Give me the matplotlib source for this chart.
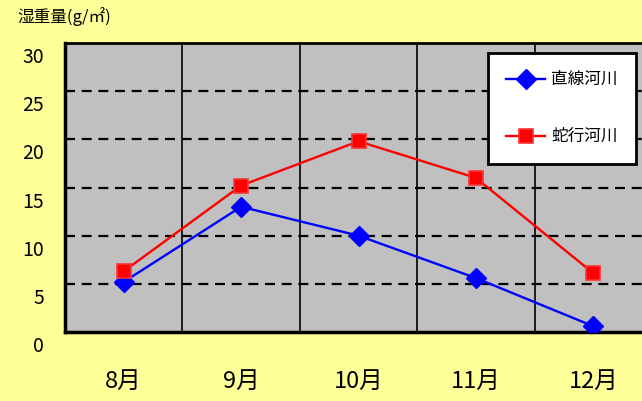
import matplotlib
matplotlib.use("Agg")
import matplotlib.pyplot as plt
import matplotlib.transforms as mtransforms

plt.rcParams['font.family'] = ['Noto Sans CJK JP', 'DejaVu Sans']

# monthly wet weight for the two river types
months = ["8月", "9月", "10月", "11月", "12月"]
straight = [5.2, 13.0, 10.0, 5.6, 0.6]
meander = [6.3, 15.2, 19.8, 16.0, 6.1]
yticks = [0, 5, 10, 15, 20, 25, 30]

fig = plt.figure(figsize=(6.42, 4.01), dpi=100)
fig.patch.set_facecolor('#ffff99')
ax = fig.add_axes([65 / 642, 1 - 332 / 401, 587 / 642, 289 / 401])
ax.set_facecolor('#c0c0c0')

x = [i + 0.5 for i in range(len(months))]
ax.plot(x, straight, color='#0000ff', lw=1.7, marker='D', ms=10,
        mfc='#0000ff', mec='#0000ff', label='直線河川', zorder=4)
ax.plot(x, meander, color='#ff0000', lw=1.7, marker='s', ms=10,
        mfc='#ff0000', mec='#ff3333', mew=1.2, label='蛇行河川', zorder=5)

ax.set_xlim(0, len(months))
ax.set_ylim(0, 30)

# dashed horizontal grid, solid category separators
for v in yticks[1:-1]:
    ax.axhline(v, color='black', lw=1.6, ls=(0, (4.5, 3)), zorder=2)
ax.set_xticks(range(1, len(months)), minor=True)
ax.grid(which='minor', axis='x', color='black', lw=1.2, zorder=2)

ax.set_xticks(x)
ax.set_xticklabels(months, fontsize=17)
ax.set_yticks(yticks)
ax.set_yticklabels([str(v) for v in yticks], fontsize=14)
ax.tick_params(which='both', length=0)
ax.tick_params(axis='x', pad=27)
ax.tick_params(axis='y', pad=15)

shift = mtransforms.ScaledTranslation(0, -12 / 100, fig.dpi_scale_trans)
for lab in ax.get_yticklabels():
    lab.set_transform(lab.get_transform() + shift)

for side in ['left', 'bottom']:
    ax.spines[side].set_linewidth(2.5)
ax.spines['top'].set_linewidth(2)
ax.spines['right'].set_visible(False)

leg = ax.legend(loc='upper left', bbox_to_anchor=(488 / 642, 1 - 53 / 401),
                bbox_transform=fig.transFigure, borderaxespad=0,
                fontsize=12, labelspacing=2.4, borderpad=1.1,
                handlelength=2.3, handletextpad=0.4, fancybox=False,
                framealpha=1, facecolor='white', edgecolor='black')
leg.get_frame().set_linewidth(2)
leg.set_zorder(10)

fig.text(17 / 642, 1 - 17 / 401, "湿重量(g/㎡)", fontsize=12, va='center', ha='left')

fig.savefig('out.png', dpi=100, facecolor=fig.get_facecolor())
